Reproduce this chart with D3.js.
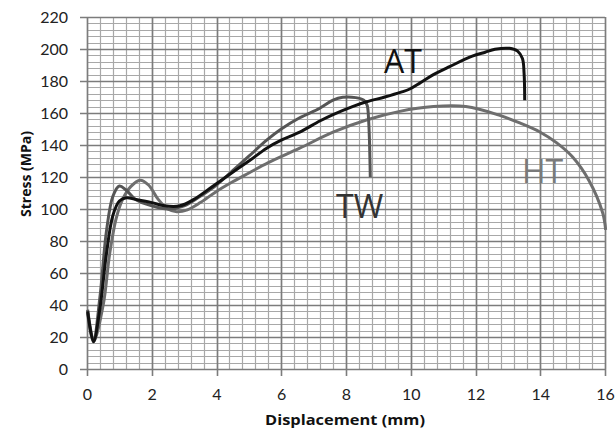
<!DOCTYPE html>
<html>
<head>
<meta charset="utf-8">
<script src="https://cdn.jsdelivr.net/npm/d3@7"></script>
<style>
  body { margin: 0; background: #fff; }
  text { font-family: Lato, "Open Sans", sans-serif; }
</style>
</head>
<body>
<div id="chart"></div>
<script>
'use strict';

// tick labels
var xTicks = [0, 2, 4, 6, 8, 10, 12, 14, 16];
var yTicks = [0, 20, 40, 60, 80, 100, 120, 140, 160, 180, 200, 220];

// series: [displacement mm, stress MPa]
var atData = [[0.02, 36], [0.2, 17], [0.4, 38], [0.6, 72], [0.8, 96], [1.0, 105], [1.22, 107], [1.5, 106],
  [2.0, 104], [2.4, 102], [2.87, 102], [3.3, 106], [3.8, 113], [4.5, 123], [5.0, 130], [5.55, 138],
  [6.0, 143], [6.57, 148], [7.19, 155], [7.6, 159], [8.2, 164], [8.63, 167], [9.2, 170], [9.7, 173],
  [9.97, 175], [10.3, 179], [10.7, 184], [11.2, 189], [11.9, 195.5], [12.3, 198], [12.6, 199.8],
  [13.05, 200.4], [13.3, 198.7], [13.45, 194], [13.5, 185], [13.52, 168]];

var twData = [[0.02, 37], [0.2, 18], [0.4, 45], [0.6, 86], [0.8, 108], [1.0, 114.4], [1.2, 112], [1.5, 106],
  [2.0, 102], [2.5, 100], [3.0, 102], [3.5, 108], [4.0, 115], [4.5, 124], [5.0, 133], [5.55, 143],
  [6.0, 150], [6.57, 157], [7.19, 163], [7.6, 168], [7.9, 169.8], [8.3, 169.6], [8.55, 168],
  [8.65, 165], [8.7, 155], [8.75, 120]];

var htData = [[0.02, 35], [0.2, 17], [0.5, 40], [0.7, 72], [0.9, 94], [1.1, 106], [1.35, 114], [1.64, 118],
  [1.9, 115], [2.2, 106], [2.5, 100], [2.77, 98.3], [3.1, 99.5], [3.5, 104], [4.0, 111], [4.5, 117],
  [5.0, 122.5], [5.6, 129], [6.57, 138], [7.6, 148], [8.63, 155.6], [9.66, 161], [10.7, 164],
  [11.7, 164], [12.75, 158.5], [13.4, 153.5], [14.0, 148], [14.5, 141.5], [15.0, 132.5], [15.5, 118],
  [15.93, 97.5], [16.02, 87]];

var series = [
  { name: 'HT', data: htData, color: '#6e6e6e', lx: 522, ly: 183, tc: '#7a7a7a' },
  { name: 'TW', data: twData, color: '#555555', lx: 336, ly: 218, tc: '#333' },
  { name: 'AT', data: atData, color: '#111111', lx: 384, ly: 73, tc: '#111' }
];

var W = 615, H = 432;
var x = d3.scaleLinear().domain([0, 16]).range([87, 605]);
var y = d3.scaleLinear().domain([0, 220]).range([369, 17]);

var svg = d3.select('#chart').append('svg')
    .attr('width', W)
    .attr('height', H);

// grid
var grid = svg.append('g').attr('id', 'grid');
var minorX = d3.range(0, 16.01, 0.4), minorY = d3.range(0, 220.1, 4);
grid.selectAll('.mx').data(minorX).enter().append('line')
    .attr('x1', function (d) { return Math.round(x(d)) + 0.5; })
    .attr('x2', function (d) { return Math.round(x(d)) + 0.5; })
    .attr('y1', y(0)).attr('y2', y(220))
    .attr('stroke', '#a8a8a8').attr('stroke-width', 1.2);
grid.selectAll('.my').data(minorY).enter().append('line')
    .attr('y1', function (d) { return Math.round(y(d)) + 0.5; })
    .attr('y2', function (d) { return Math.round(y(d)) + 0.5; })
    .attr('x1', x(0)).attr('x2', x(16))
    .attr('stroke', '#a8a8a8').attr('stroke-width', 1.2);
grid.selectAll('.Mx').data(xTicks).enter().append('line')
    .attr('x1', function (d) { return Math.round(x(d)) + 0.5; })
    .attr('x2', function (d) { return Math.round(x(d)) + 0.5; })
    .attr('y1', y(0) + 7).attr('y2', y(220))
    .attr('stroke', '#7c7c7c').attr('stroke-width', 1.6);
grid.selectAll('.My').data(yTicks).enter().append('line')
    .attr('y1', function (d) { return Math.round(y(d)) + 0.5; })
    .attr('y2', function (d) { return Math.round(y(d)) + 0.5; })
    .attr('x1', x(0) - 7).attr('x2', x(16))
    .attr('stroke', '#7c7c7c').attr('stroke-width', 1.6);

// axes labels
svg.append('g').attr('transform', 'translate(0,' + y(0) + ')')
    .call(d3.axisBottom(x).tickValues(xTicks).tickSize(0).tickPadding(20))
    .call(function (g) { g.select('.domain').remove(); })
    .selectAll('text')
    .attr('font-size', 16).attr('fill', '#222')
    .style('font-family', 'Lato, sans-serif');

svg.append('g').attr('transform', 'translate(' + x(0) + ',0)')
    .call(d3.axisLeft(y).tickValues(yTicks).tickSize(0).tickPadding(19))
    .call(function (g) { g.select('.domain').remove(); })
    .selectAll('text')
    .attr('font-size', 16).attr('fill', '#222')
    .style('font-family', 'Lato, sans-serif');

svg.append('text')
    .attr('x', 265).attr('y', 425)
    .attr('font-size', 15).attr('font-weight', 'bold').attr('fill', '#111')
    .attr('textLength', 160).attr('lengthAdjust', 'spacingAndGlyphs')
    .style('font-family', '"Open Sans", sans-serif')
    .text('Displacement (mm)');

svg.append('text')
    .attr('transform', 'translate(31,217) rotate(-90)')
    .attr('font-size', 15).attr('font-weight', 'bold').attr('fill', '#111')
    .attr('textLength', 86).attr('lengthAdjust', 'spacingAndGlyphs')
    .style('font-family', '"Open Sans", sans-serif')
    .text('Stress (MPa)');

// curves
var line = d3.line()
    .x(function (d) { return x(d[0]); })
    .y(function (d) { return y(d[1]); })
    .curve(d3.curveCatmullRom.alpha(0.5));

svg.append('g').attr('id', 'lines').selectAll('path')
    .data(series).enter().append('path')
    .attr('d', function (d) { return line(d.data); })
    .attr('fill', 'none')
    .attr('stroke', function (d) { return d.color; })
    .attr('stroke-width', 3)
    .attr('stroke-linejoin', 'round');

svg.append('g').selectAll('text')
    .data(series).enter().append('text')
    .attr('x', function (d) { return d.lx; })
    .attr('y', function (d) { return d.ly; })
    .attr('font-size', 32)
    .attr('fill', function (d) { return d.tc; })
    .style('font-family', '"Open Sans", sans-serif')
    .text(function (d) { return d.name; });
</script>
</body>
</html>
